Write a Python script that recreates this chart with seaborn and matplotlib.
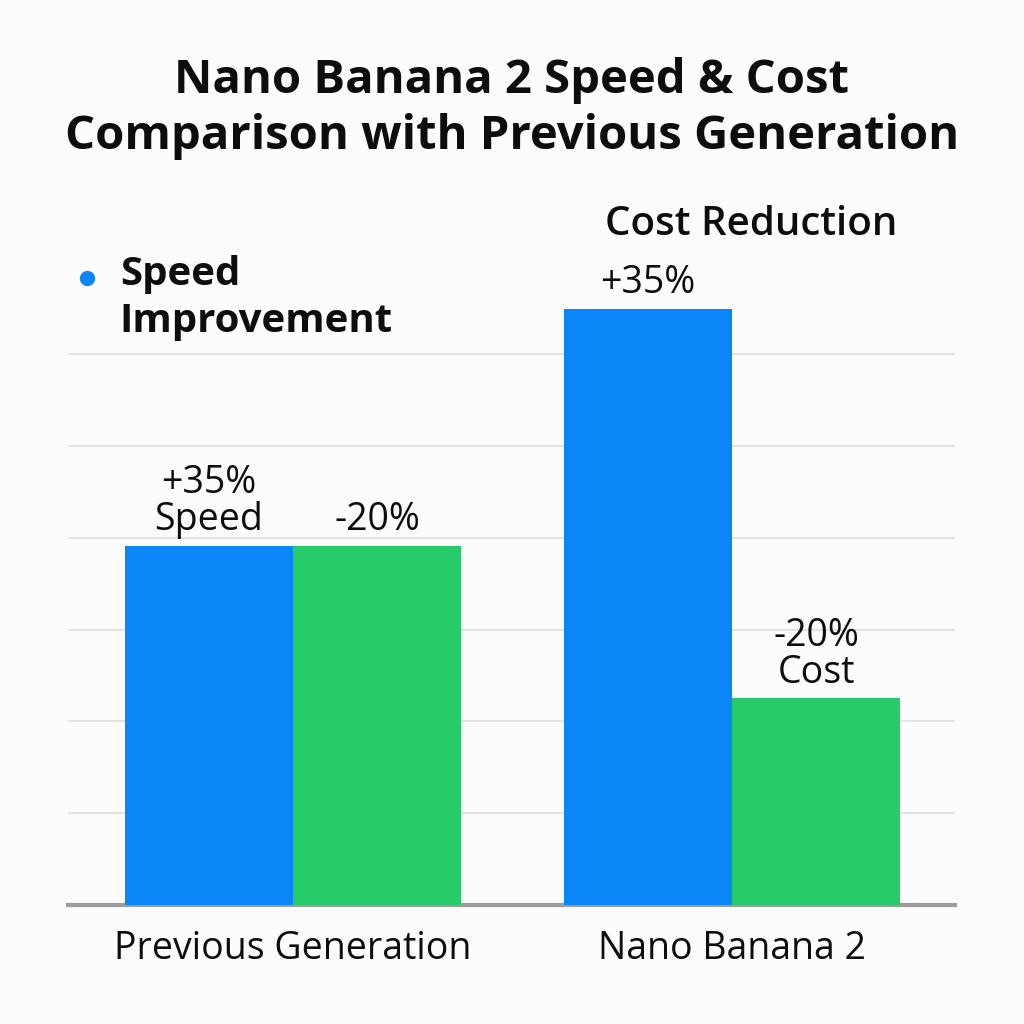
import pandas as pd
import matplotlib.pyplot as plt
from matplotlib.lines import Line2D
import seaborn as sns

# ── Data ──────────────────────────────────────────────────────────────────────
generations = ["Previous Generation", "Nano Banana 2"]
speed_values = [3.91, 6.49]
cost_values = [3.91, 2.25]
series_names = ["Speed Improvement", "Cost Reduction"]
speed_labels = ["+35%\nSpeed", "+35%"]
cost_labels = ["-20%", "-20%\nCost"]

BLUE = "#0B86F6"
GREEN = "#27CB67"
BG = "#FBFCFB"
INK = "#0D0D0D"

df = pd.DataFrame({
    "Generation": generations * 2,
    "Series": [series_names[0]] * 2 + [series_names[1]] * 2,
    "Value": speed_values + cost_values,
})

sns.set_theme(style="white")
plt.rcParams["font.family"] = ["Open Sans", "DejaVu Sans"]

fig = plt.figure(figsize=(10.24, 10.24), dpi=100, facecolor=BG)
ax = fig.add_axes([0.066, 0.116, 0.867, 0.718])
ax.set_facecolor(BG)

sns.barplot(
    data=df, x="Generation", y="Value", hue="Series",
    order=generations, hue_order=series_names,
    palette=[BLUE, GREEN], width=0.765, saturation=1,
    linewidth=0, legend=False, ax=ax, zorder=3,
)

ax.set_xlim(-0.513, 1.508)
ax.set_ylim(0, 8)
ax.set_yticks(range(1, 7))
ax.set_yticklabels([])
ax.tick_params(axis="y", length=0)
ax.tick_params(axis="x", length=0, pad=18, labelsize=27, colors=INK)
ax.grid(axis="y", color="#E2E4E3", linewidth=1.5, zorder=0)
ax.set_xlabel("")
ax.set_ylabel("")
sns.despine(ax=ax, left=True, top=True, right=True)
ax.spines["bottom"].set_color("#9C9C9C")
ax.spines["bottom"].set_linewidth(3)

# value labels over the bars
bars = ax.patches
labels = speed_labels + cost_labels
for bar, text in zip(bars, labels):
    cx = bar.get_x() + bar.get_width() / 2
    ax.text(cx, bar.get_height() + 0.07, text, ha="center", va="bottom",
            fontsize=27, color=INK, linespacing=0.97, zorder=5)

# title
fig.text(0.5, 0.894, "Nano Banana 2 Speed & Cost\nComparison with Previous Generation",
         ha="center", va="center", fontsize=34, fontweight="bold",
         color=INK, linespacing=1.27)

# series headers
fig.add_artist(Line2D([0.085], [0.729], marker="o", color="none",
                      markerfacecolor=BLUE, markeredgecolor=BLUE,
                      markersize=10, transform=fig.transFigure))
fig.text(0.117, 0.709, "Speed\nImprovement", ha="left", va="center",
         fontsize=29, fontweight="bold", color=INK, linespacing=1.27)
fig.text(0.734, 0.780, "Cost Reduction", ha="center", va="center",
         fontsize=29, fontweight="semibold", color=INK)

fig.savefig("out.png", dpi=100, facecolor=BG)
